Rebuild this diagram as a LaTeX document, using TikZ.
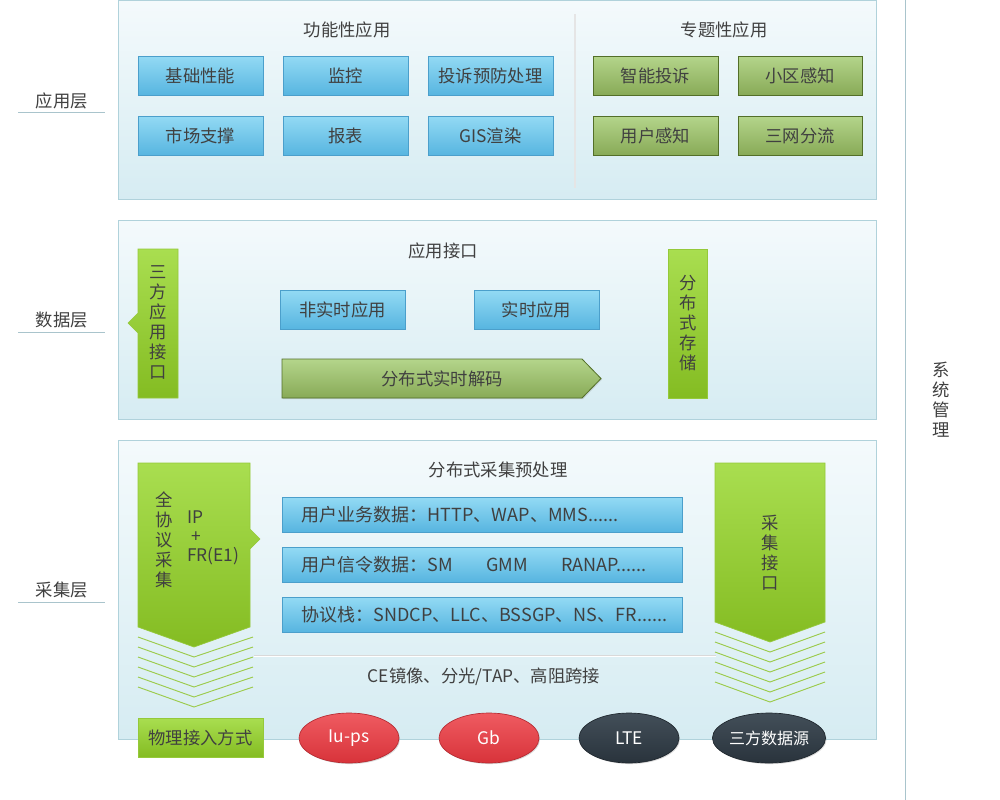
\documentclass[tikz,border=0pt]{standalone}
\usepackage{fontspec}
\setmainfont{Noto Sans CJK SC}
\usetikzlibrary{shapes.geometric,shadows}
\definecolor{txt}{HTML}{404040}
\definecolor{layert}{HTML}{F4FAFC}
\definecolor{layerbot}{HTML}{D6ECF2}
\definecolor{layerb}{HTML}{B0D2DB}
\definecolor{bluet}{HTML}{93DAF4}
\definecolor{bluebot}{HTML}{57B5E0}
\definecolor{blueb}{HTML}{4B9FCB}
\definecolor{olivet}{HTML}{B4D58B}
\definecolor{olivebot}{HTML}{88AA57}
\definecolor{oliveb}{HTML}{536F28}
\definecolor{limet}{HTML}{A9DE50}
\definecolor{limebot}{HTML}{84BC22}
\definecolor{limeb}{HTML}{95C93A}
\definecolor{chevc}{HTML}{9CCB4C}
\definecolor{redt}{HTML}{EF5B61}
\definecolor{redbot}{HTML}{D8333A}
\definecolor{redb}{HTML}{B52A31}
\definecolor{darkt}{HTML}{434F59}
\definecolor{darkbot}{HTML}{29333C}
\definecolor{darkb}{HTML}{1F272E}
\definecolor{sepline}{HTML}{A9C4CC}
\newcommand\fsA{\fontsize{13pt}{15pt}\selectfont}
\newcommand\fsW{\fontsize{13.5pt}{15pt}\selectfont}
\newcommand\fsV{\fontsize{13pt}{15pt}\selectfont}
\newcommand\fsE{\fontsize{13pt}{14pt}\selectfont}
\newcommand\bx[7]{\node[#1, minimum width={(#4-#2)*0.75pt}, minimum height={(#5-#3)*0.75pt}, inner sep=0pt] (#6) at ({(#2+#4)/2},{(#3+#5)/2}) {#7};}
\tikzset{
  x=0.75pt, y=-0.75pt,
  txtst/.style={text=txt, font=\fsA, inner sep=0pt},
  widetxt/.style={text=txt, font=\fsW, inner sep=0pt},
  vtxt/.style={text=txt, font=\fsV, align=center, inner sep=0pt},
  layer/.style={draw=layerb, line width=0.6pt, top color=layert, bottom color=layerbot},
  bbox/.style={draw=blueb, line width=0.6pt, top color=bluet, bottom color=bluebot, text=txt, font=\fsA,
    drop shadow={shadow xshift=0.8pt, shadow yshift=-0.8pt, opacity=0.25}},
  obox/.style={draw=oliveb, line width=0.6pt, top color=olivet, bottom color=olivebot, text=txt, font=\fsA,
    drop shadow={shadow xshift=0.8pt, shadow yshift=-0.8pt, opacity=0.25}},
  lime/.style={draw=limeb, line width=0.5pt, top color=limet, bottom color=limebot, text=txt, font=\fsA},
  chev/.style={draw=chevc, line width=0.7pt},
  redell/.style={ellipse, draw=redb, line width=0.5pt, top color=redt, bottom color=redbot, text=white, font=\fsE,
    minimum width=75pt, minimum height=37.5pt, inner sep=0pt,
    drop shadow={shadow xshift=0.8pt, shadow yshift=-0.8pt, opacity=0.3}},
  darkell/.style={redell, draw=darkb, top color=darkt, bottom color=darkbot},
  sidelbl/.style={text=txt, font=\fsA, inner sep=0pt},
  sideline/.style={draw=sepline, line width=0.7pt},
}
\begin{document}
\begin{tikzpicture}
\useasboundingbox[fill=white] (0,0) rectangle (1000,800);

% right separator and system management
\coordinate (sysTop) at (905,0);
\coordinate (sysBot) at (905,800);
\draw[sideline] (sysTop) -- (sysBot);
\node[vtxt] (sys) at (941,400) {系\\统\\管\\理};

% left labels
\node[sidelbl] (lblApp) at (62,101) {应用层};
\coordinate (la1) at (18,112); \coordinate (la2) at (105,112);
\draw[sideline] (la1) -- (la2);
\node[sidelbl] (lblData) at (62,320) {数据层};
\coordinate (ld1) at (18,332); \coordinate (ld2) at (105,332);
\draw[sideline] (ld1) -- (ld2);
\node[sidelbl] (lblCol) at (62,590) {采集层};
\coordinate (lc1) at (18,602); \coordinate (lc2) at (105,602);
\draw[sideline] (lc1) -- (lc2);

% layer boxes
\bx{layer}{118}{0.5}{876}{199}{L1}{}
\bx{layer}{118}{220}{876}{419}{L2}{}
\bx{layer}{118}{440}{876}{739}{L3}{}

% ---------- application layer ----------
\node[txtst] (t1) at (347,30) {功能性应用};
\node[txtst] (t2) at (724,30) {专题性应用};
\coordinate (dv1) at (575,14); \coordinate (dv2) at (575,188);
\draw[black!10, line width=0.8pt] (dv1) -- (dv2);

\bx{bbox}{138}{56}{263}{95}{a1}{基础性能}
\bx{bbox}{283}{56}{408}{95}{a2}{监控}
\bx{bbox}{428}{56}{553}{95}{a3}{投诉预防处理}
\bx{bbox}{138}{116}{263}{155}{a4}{市场支撑}
\bx{bbox}{283}{116}{408}{155}{a5}{报表}
\bx{bbox}{428}{116}{553}{155}{a6}{GIS渲染}
\bx{obox}{593}{56}{718}{95}{s1}{智能投诉}
\bx{obox}{738}{56}{862}{95}{s2}{小区感知}
\bx{obox}{593}{116}{718}{155}{s3}{用户感知}
\bx{obox}{738}{116}{862}{155}{s4}{三网分流}

% ---------- data layer ----------
\node[txtst] (t3) at (443,251) {应用接口};
\path[lime] (138,249) -- (178,249) -- (178,398) -- (138,398) -- (138,333) -- (128,323) -- (138,313) -- cycle;
\node[vtxt] (tpi) at (158,323) {三\\方\\应\\用\\接\\口};
\bx{bbox}{280}{290}{405}{329}{d1}{非实时应用}
\bx{bbox}{474}{290}{599}{329}{d2}{实时应用}
\path[draw=oliveb, line width=0.6pt, top color=olivet, bottom color=olivebot,
  drop shadow={shadow xshift=0.8pt, shadow yshift=-0.8pt, opacity=0.25}]
  (282,359) -- (582,359) -- (601,378.5) -- (582,398) -- (282,398) -- cycle;
\node[txtst] (dec) at (442,379) {分布式实时解码};
\bx{lime}{668}{249}{707}{398}{store}{}
\node[vtxt] (storet) at (688,323) {分\\布\\式\\存\\储};

% ---------- collection layer ----------
\node[txtst] (t4) at (498,470) {分布式采集预处理};
% left chevron arrow
\path[lime] (138,463) -- (250,463) -- (250,529) -- (260,539) -- (250,549) -- (250,627) -- (194,647) -- (138,627) -- cycle;
\node[vtxt] (fullp) at (164,540) {全\\协\\议\\采\\集};
\node[text=txt, font=\fsA, align=left, inner sep=0pt, anchor=west] (ipfr) at (187,538) {IP\\[-0.6pt]\hspace{3pt}+\\[-0.6pt]FR(E1)};
\foreach \k in {0,...,5} {
  \draw[chev] (138,637+10*\k) -- (194,657+10*\k) -- (253,637+10*\k);
}
% right chevron arrow
\path[lime] (715,463) -- (825,463) -- (825,622) -- (770,642) -- (715,622) -- cycle;
\node[vtxt] (colif) at (770,553) {采\\集\\接\\口};
\foreach \k in {0,...,5} {
  \draw[chev] (715,632+10*\k) -- (770,652+10*\k) -- (825,632+10*\k);
}

\bx{bbox}{282}{497}{682}{532}{w1}{}
\node[widetxt, anchor=west] (w1t) at ([xshift=15pt]w1.west) {用户业务数据：HTTP、WAP、MMS......};
\bx{bbox}{282}{547}{682}{582}{w2}{}
\node[widetxt, anchor=west] (w2t) at ([xshift=15pt]w2.west) {用户信令数据：SM\hspace{25pt}GMM\hspace{25pt}RANAP......};
\bx{bbox}{282}{597}{682}{632}{w3}{}
\node[widetxt, anchor=west] (w3t) at ([xshift=15pt]w3.west) {协议栈：SNDCP、LLC、BSSGP、NS、FR......};

\coordinate (hl1) at (254,655); \coordinate (hl2) at (716,655);
\draw[black!15, line width=0.7pt] (hl1) -- (hl2);
\draw[white, line width=0.7pt] ([yshift=-0.8pt]hl1) -- ([yshift=-0.8pt]hl2);
\node[txtst] (ce) at (484,677) {CE镜像、分光/TAP、高阻跨接};

% bottom row
\bx{lime}{138}{718}{263}{757}{phy}{物理接入方式}
\node[redell] (iu) at (349,738) {Iu-ps};
\node[redell] (gb) at (489,738) {Gb};
\node[darkell] (lte) at (629,738) {LTE};
\node[darkell, font=\fontsize{12pt}{14pt}\selectfont] (third) at (769,738) {三方数据源};
\end{tikzpicture}
\end{document}
